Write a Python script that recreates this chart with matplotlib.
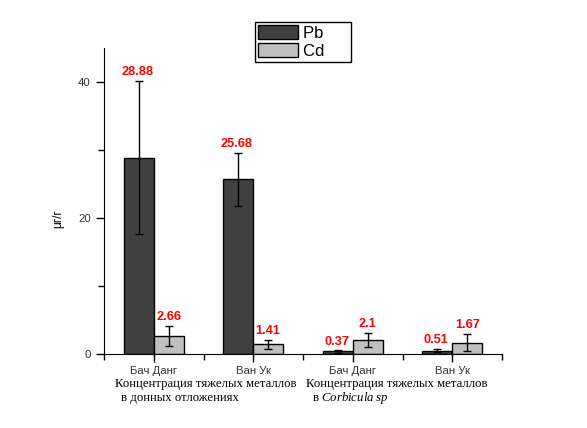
import matplotlib.pyplot as plt
import numpy as np
from matplotlib.patches import Patch

sites = ['Бач Данг', 'Ван Ук', 'Бач Данг', 'Ван Ук']
pb = [28.88, 25.68, 0.37, 0.51]
pb_err = [11.3, 3.9, 0.17, 0.19]
cd = [2.66, 1.41, 2.1, 1.67]
cd_err = [1.5, 0.7, 1.0, 1.3]
pb_labels = ['28.88', '25.68', '0.37', '0.51']
cd_labels = ['2.66', '1.41', '2.1', '1.67']

plt.rcParams['font.family'] = ['Liberation Sans', 'DejaVu Sans']
plt.rcParams['mathtext.fontset'] = 'custom'
plt.rcParams['mathtext.rm'] = 'Liberation Serif'
plt.rcParams['mathtext.it'] = 'Liberation Serif:italic'

fig = plt.figure(figsize=(5.87, 4.28), dpi=100)
ax = fig.add_axes([0.1772, 0.1729, 0.678, 0.715])

x = np.arange(1, len(sites) + 1)
w = 0.3
ax.bar(x - w / 2, pb, w, color='#404040', edgecolor='black', linewidth=1,
       yerr=pb_err, error_kw=dict(ecolor='black', elinewidth=1, capsize=3, capthick=1))
ax.bar(x + w / 2, cd, w, color='#c0c0c0', edgecolor='black', linewidth=1,
       yerr=cd_err, error_kw=dict(ecolor='black', elinewidth=1, capsize=3, capthick=1))

for xi, v, e, t in zip(x - w / 2, pb, pb_err, pb_labels):
    ax.annotate(t, (xi, v + e), xytext=(-1, 2), textcoords='offset points',
                ha='center', va='bottom', color='red', fontsize=9.2, fontweight='bold')
for xi, v, e, t in zip(x + w / 2, cd, cd_err, cd_labels):
    ax.annotate(t, (xi, v + e), xytext=(0, 2), textcoords='offset points',
                ha='center', va='bottom', color='red', fontsize=9.2, fontweight='bold')

ax.set_xlim(0.5, 4.5)
ax.set_ylim(0, 45)
ax.set_yticks([0, 20, 40])
ax.set_yticks([10, 30], minor=True)
ax.set_xticks(x)
ax.set_xticklabels(sites)
ax.set_xticks([0.5, 1.5, 2.5, 3.5, 4.5], minor=True)
for s in ['top', 'right']:
    ax.spines[s].set_visible(False)
ax.tick_params(axis='both', which='major', length=6, width=1, labelsize=8.2, labelcolor='#333333')
ax.tick_params(axis='both', which='minor', length=4, width=1)
ax.tick_params(axis='x', which='major', pad=3)

ax.set_ylabel('μг/г', fontsize=8.5)
ax.yaxis.set_label_coords(-0.1, 0.444)

group_kw = dict(xycoords=('data', 'axes fraction'), textcoords='offset points',
                ha='left', va='center', fontsize=9.2, family='Liberation Serif')
ax.annotate('Концентрация тяжелых металлов', (0.61, 0), xytext=(0, -21.5), **group_kw)
ax.annotate('в донных отложениях', (0.67, 0), xytext=(0, -31.5), **group_kw)
ax.annotate('Концентрация тяжелых металлов', (2.53, 0), xytext=(0, -21.5), **group_kw)
ax.annotate(r'в $\it{Corbicula\ sp}$', (2.59, 0), xytext=(0, -31.5), **group_kw)

# trailing spaces widen the legend box like in the original
handles = [Patch(facecolor='#404040', edgecolor='black', label='Pb     '),
           Patch(facecolor='#c0c0c0', edgecolor='black', label='Cd     ')]
fig.legend(handles=handles, loc='upper center', bbox_to_anchor=(0.516, 0.9486),
           fontsize=12, frameon=True, fancybox=False, edgecolor='black', framealpha=1,
           handlelength=2.4, handleheight=0.85, labelspacing=0.15, borderpad=0.2,
           handletextpad=0.3, borderaxespad=0)

fig.savefig('out.png', dpi=100)
